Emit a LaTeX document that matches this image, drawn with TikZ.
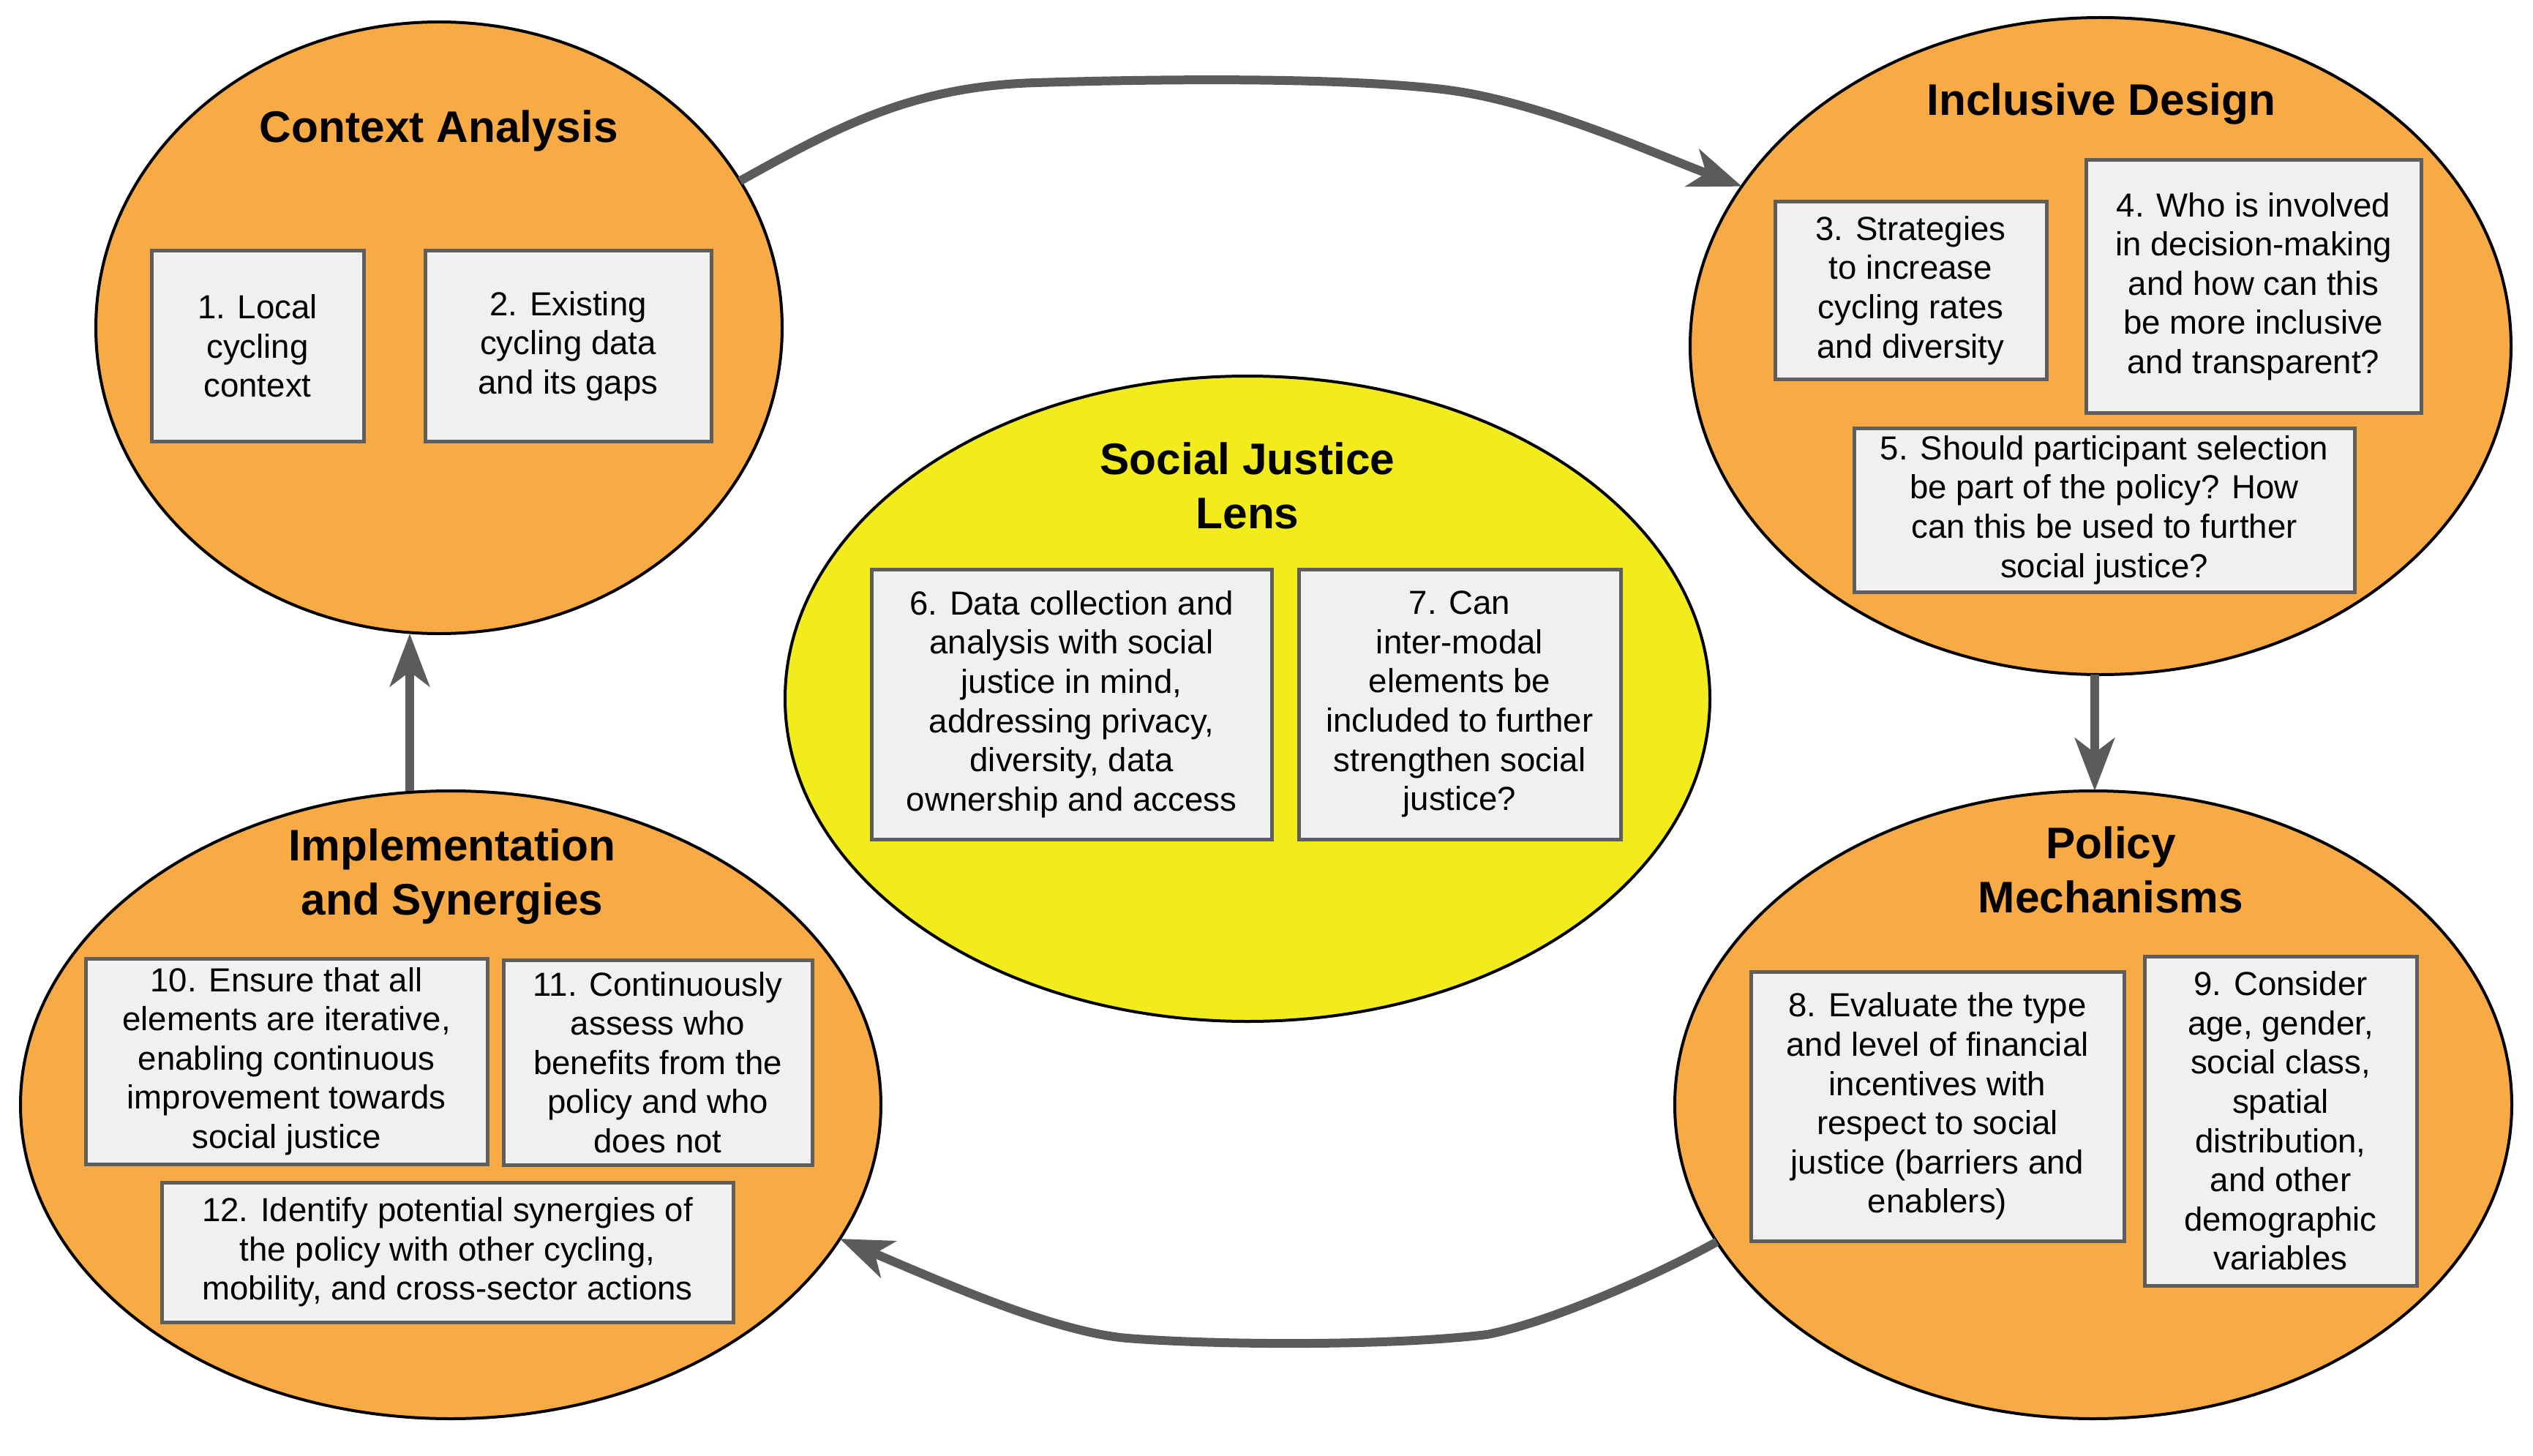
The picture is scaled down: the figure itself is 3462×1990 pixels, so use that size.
\documentclass[tikz,border=0pt]{standalone}
\usepackage{fontspec}
\setmainfont{Liberation Sans}
\usetikzlibrary{shapes.geometric,arrows.meta}
\definecolor{orangefill}{RGB}{248,170,68}
\definecolor{yellowfill}{RGB}{242,236,28}
\definecolor{boxfill}{RGB}{240,240,240}
\definecolor{boxline}{RGB}{94,94,94}
\definecolor{arrowc}{RGB}{90,92,91}
\begin{document}
\begin{tikzpicture}[x=0.25pt,y=-0.25pt,
 phase/.style={ellipse, draw=black, line width=1pt, inner sep=0pt, outer sep=0pt},
 titletext/.style={align=center, inner sep=0pt, font=\fontsize{15.1}{18.5}\selectfont\bfseries},
 itembox/.style={draw=boxline, fill=boxfill, line width=1.25pt, align=center, inner sep=0pt, outer sep=0pt, font=\fontsize{11.4}{13.4}\selectfont},
 flow/.style={draw=arrowc, line width=3pt, -{Stealth[length=18pt,width=13.5pt,inset=5pt]}}
]
\useasboundingbox (0,0) rectangle (3462,1990);

% phases
\node[phase, fill=orangefill, minimum width=234.5pt, minimum height=209pt] (ca) at (600,448) {};
\node[phase, fill=orangefill, minimum width=280.5pt, minimum height=224.5pt] (id) at (2871,473) {};
\node[phase, fill=yellowfill, minimum width=316pt, minimum height=220.5pt] (sj) at (1705,955) {};
\node[phase, fill=orangefill, minimum width=294pt, minimum height=214.5pt] (im) at (616,1510) {};
\node[phase, fill=orangefill, minimum width=286pt, minimum height=214.5pt] (pm) at (2861,1510) {};

% titles
\node[titletext] (tca) at (600,179) {Context Analysis};
\node[titletext] (tid) at (2872,142) {Inclusive Design};
\node[titletext] (tsj) at (1705,664) {Social Justice\\Lens};
\node[titletext] (tim) at (618,1198) {Implementation\\and Synergies};
\node[titletext] (tpm) at (2885,1189) {Policy\\Mechanisms};

% boxes
\node[itembox, minimum width=72.5pt, minimum height=65pt] (b1) at (352,473) {1. Local\\cycling\\context};
\node[itembox, minimum width=97.75pt, minimum height=65pt] (b2) at (776.5,473) {2. Existing\\cycling data\\and its gaps};
\node[itembox, minimum width=92.75pt, minimum height=60.5pt] (b3) at (2611.5,397) {3. Strategies\\to increase\\cycling rates\\and diversity};
\node[itembox, minimum width=114.5pt, minimum height=86.25pt] (b4) at (3080,391.5) {4. Who is involved\\in decision-making\\and how can this\\be more inclusive\\and transparent?};
\node[itembox, minimum width=171pt, minimum height=56pt] (b5) at (2876,697) {5. Should participant selection\\be part of the policy? How\\can this be used to further\\social justice?};
\node[itembox, minimum width=136.75pt, minimum height=92.25pt] (b6) at (1464.5,962.5) {6. Data collection and\\analysis with social\\justice in mind,\\addressing privacy,\\diversity, data\\ownership and access};
\node[itembox, minimum width=110pt, minimum height=92.25pt] (b7) at (1995,962.5) {7. Can\\inter-modal\\elements be\\included to further\\strengthen social\\justice?};
\node[itembox, minimum width=127.5pt, minimum height=92pt] (b8) at (2648,1512) {8. Evaluate the type\\and level of financial\\incentives with\\respect to social\\justice (barriers and\\enablers)};
\node[itembox, minimum width=93pt, minimum height=112.5pt] (b9) at (3117,1532) {9. Consider\\age, gender,\\social class,\\spatial\\distribution,\\and other\\demographic\\variables};
\node[itembox, minimum width=137.25pt, minimum height=70.25pt] (b10) at (391.5,1450.5) {10. Ensure that all\\elements are iterative,\\enabling continuous\\improvement towards\\social justice};
\node[itembox, minimum width=105.5pt, minimum height=70pt] (b11) at (899,1452) {11. Continuously\\assess who\\benefits from the\\policy and who\\does not};
\node[itembox, minimum width=195.25pt, minimum height=47.75pt] (b12) at (611.5,1711.5) {12. Identify potential synergies of\\the policy with other cycling,\\mobility, and cross-sector actions};

% connectors
\coordinate (x560) at (560,0);
\coordinate (x2863) at (2863,0);
\draw[flow] (ca.26) .. controls (1150,170) and (1250,118) .. (1416,113)
  .. controls (1566,108.5) and (1821,104.5) .. (1971,122)
  .. controls (2101,137) and (2258,209) .. (id.156);
\draw[flow] (id.south -| x2863) -- (pm.north -| x2863);
\draw[flow] (pm.200) .. controls (2255,1748) and (2112,1809) .. (2032,1824)
  .. controls (1900,1840) and (1661,1838.5) .. (1541,1829)
  .. controls (1441,1821) and (1280,1749) .. (im.341);
\draw[flow] (im.north -| x560) -- (ca.south -| x560);
\end{tikzpicture}
\end{document}
